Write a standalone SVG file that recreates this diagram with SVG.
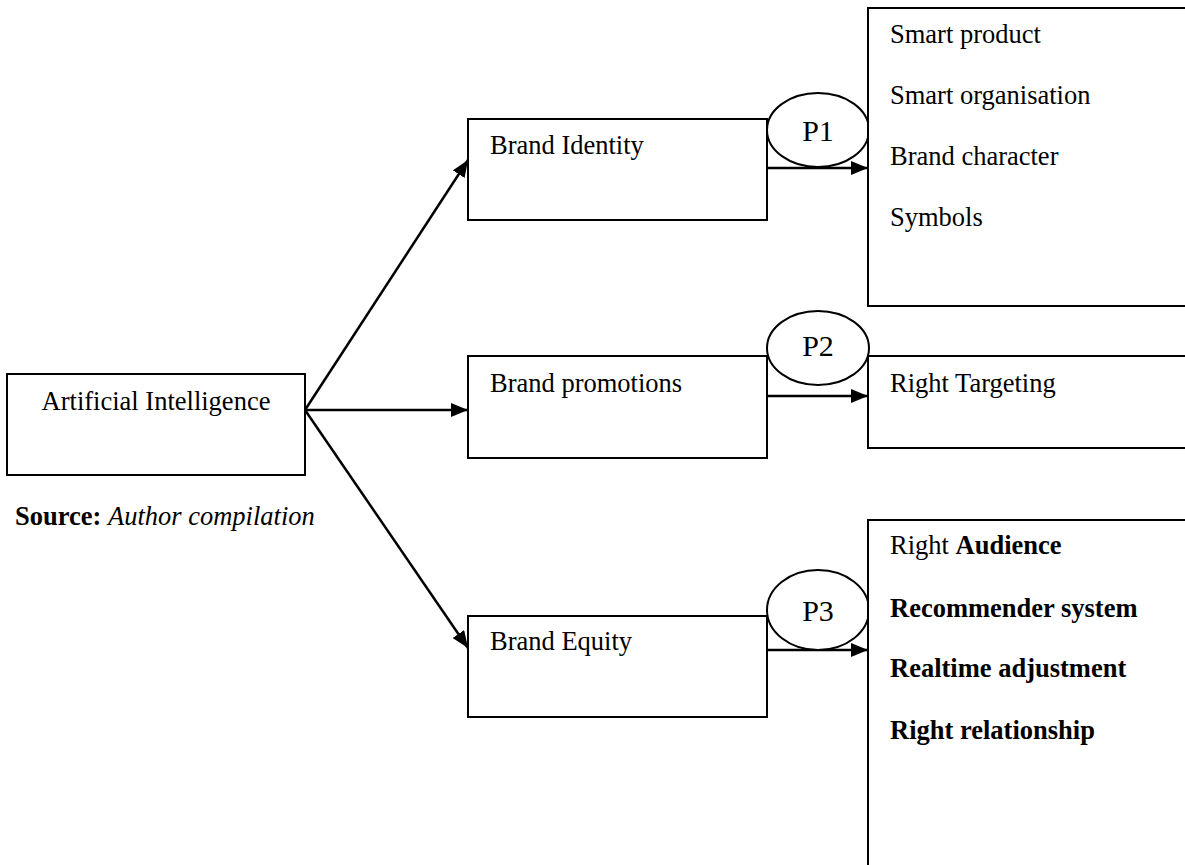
<svg xmlns="http://www.w3.org/2000/svg" width="1185" height="865" viewBox="0 0 1185 865">
<style>
.box{fill:#fff;stroke:#000;stroke-width:2}
.t{font-family:"Liberation Serif","Times New Roman",serif;font-size:26.5px;fill:#000}
.p{font-family:"Liberation Serif","Times New Roman",serif;font-size:30px;fill:#000}
.b{font-weight:bold}
.c{fill:none;stroke:#000;stroke-width:2.5}
</style>
<defs>
<marker id="ah" markerUnits="userSpaceOnUse" markerWidth="18" markerHeight="14" refX="17" refY="7" orient="auto">
<path d="M0,0 L17,7 L0,14 z" fill="#000"/>
</marker>
</defs>
<rect width="1185" height="865" fill="#fff"/>
<g id="connectors">
<line class="c" x1="305" y1="410" x2="468" y2="160" marker-end="url(#ah)"/>
<line class="c" x1="305" y1="410" x2="468" y2="410" marker-end="url(#ah)"/>
<line class="c" x1="305" y1="410" x2="468" y2="648" marker-end="url(#ah)"/>
<line class="c" x1="767" y1="168" x2="868" y2="168" marker-end="url(#ah)"/>
<line class="c" x1="767" y1="396" x2="868" y2="396" marker-end="url(#ah)"/>
<line class="c" x1="767" y1="650" x2="868" y2="650" marker-end="url(#ah)"/>
</g>
<g id="ai">
<rect class="box" x="7" y="374" width="298" height="101"/>
<text class="t" x="156" y="410" text-anchor="middle">Artificial Intelligence</text>
</g>
<g id="brand-identity">
<rect class="box" x="468" y="119" width="299" height="101"/>
<text class="t" x="490" y="154">Brand Identity</text>
</g>
<g id="brand-promotions">
<rect class="box" x="468" y="356" width="299" height="102"/>
<text class="t" x="490" y="392">Brand promotions</text>
</g>
<g id="brand-equity">
<rect class="box" x="468" y="616" width="299" height="101"/>
<text class="t" x="490" y="650">Brand Equity</text>
</g>
<g id="p1">
<ellipse class="box" cx="818" cy="130" rx="51" ry="37"/>
<text class="p" x="818" y="141" text-anchor="middle">P1</text>
</g>
<g id="p2">
<ellipse class="box" cx="818" cy="348" rx="51" ry="37"/>
<text class="p" x="818" y="356" text-anchor="middle">P2</text>
</g>
<g id="p3">
<ellipse class="box" cx="818" cy="610" rx="51" ry="40"/>
<text class="p" x="818" y="621" text-anchor="middle">P3</text>
</g>
<g id="identity-items">
<rect class="box" x="868" y="8" width="330" height="298"/>
<text class="t" x="890" y="43">Smart product</text>
<text class="t" x="890" y="104">Smart organisation</text>
<text class="t" x="890" y="165">Brand character</text>
<text class="t" x="890" y="226">Symbols</text>
</g>
<g id="promotion-items">
<rect class="box" x="868" y="356" width="330" height="92"/>
<text class="t" x="890" y="392">Right Targeting</text>
</g>
<g id="equity-items">
<rect class="box" x="868" y="520" width="330" height="360"/>
<text class="t" x="890" y="554">Right <tspan class="b">Audience</tspan></text>
<text class="t b" x="890" y="617">Recommender system</text>
<text class="t b" x="890" y="677">Realtime adjustment</text>
<text class="t b" x="890" y="739">Right relationship</text>
</g>
<g id="source">
<text class="t" x="15" y="525"><tspan class="b">Source:</tspan> <tspan font-style="italic">Author compilation</tspan></text>
</g>
</svg>
